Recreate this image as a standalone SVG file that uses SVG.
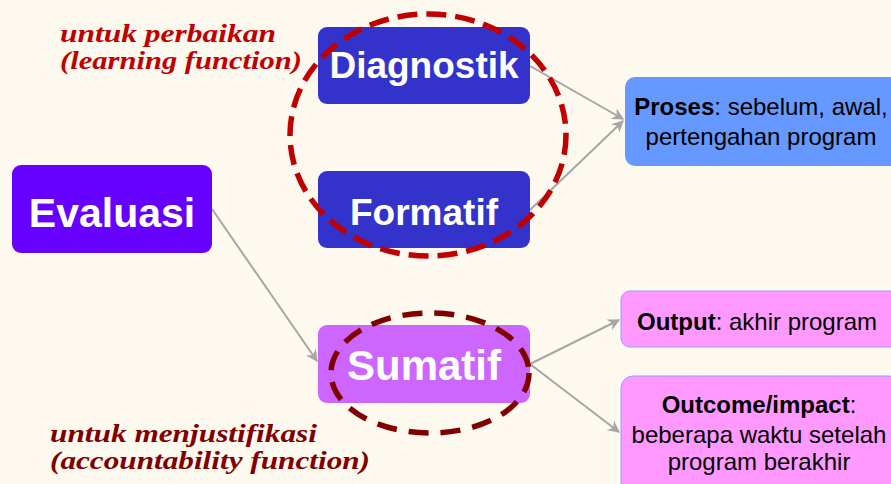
<svg xmlns="http://www.w3.org/2000/svg" width="891" height="484" viewBox="0 0 891 484">
<style>
.bg{fill:#FDF9EF}
.box text{font-family:"Liberation Sans",Arial,sans-serif}
.big{font-weight:bold;fill:#FFFFFF;text-anchor:middle}
.small{font-size:24px;fill:#000000;text-anchor:middle}
.b{font-weight:bold}
.conn line{stroke:#A6A6A6;stroke-width:2;fill:none}
.script{font-family:"Liberation Serif","DejaVu Serif",serif;font-style:italic;font-weight:bold;font-size:26px}
.ell{fill:none;stroke-width:5.5}
</style>
<defs>
<marker id="arr" viewBox="0 0 10 10" refX="9" refY="5" markerWidth="6" markerHeight="6" markerUnits="strokeWidth" orient="auto">
<path d="M0,0 L10,5 L0,10 L3,5 Z" fill="#A6A6A6"/>
</marker>
</defs>
<rect class="bg" x="0" y="0" width="891" height="484"/>

<g id="connectors" class="conn">
<line x1="212" y1="209" x2="317" y2="361" marker-end="url(#arr)"/>
<line x1="530" y1="66" x2="623" y2="119" marker-end="url(#arr)"/>
<line x1="530" y1="210" x2="623" y2="121" marker-end="url(#arr)"/>
<line x1="530" y1="364" x2="619" y2="320" marker-end="url(#arr)"/>
<line x1="530" y1="364" x2="619" y2="432" marker-end="url(#arr)"/>
</g>

<g id="evaluasi" class="box">
<rect x="12" y="165" width="200" height="88" rx="9" fill="#6600FF"/>
<text class="big" x="112" y="227" font-size="41">Evaluasi</text>
</g>
<g id="diagnostik" class="box">
<rect x="318" y="27" width="212" height="77" rx="9" fill="#3333CC"/>
<text class="big" x="424" y="78" font-size="37">Diagnostik</text>
</g>
<g id="formatif" class="box">
<rect x="318" y="171" width="212" height="77" rx="9" fill="#3333CC"/>
<text class="big" x="424" y="225" font-size="37">Formatif</text>
</g>
<g id="sumatif" class="box">
<rect x="318" y="325" width="212" height="78" rx="9" fill="#CC66FF"/>
<text class="big" x="424" y="380" font-size="42">Sumatif</text>
</g>
<g id="proses" class="box">
<rect x="625" y="77" width="280" height="89" rx="10" fill="#6699FF"/>
<text class="small" x="761" y="115"><tspan class="b">Proses</tspan>: sebelum, awal,</text>
<text class="small" x="761" y="145">pertengahan program</text>
</g>
<g id="output" class="box">
<rect x="621" y="291" width="280" height="56" rx="9" fill="#FF99FF" stroke="#9999FF" stroke-width="1"/>
<text class="small" x="757" y="330"><tspan class="b">Output</tspan>: akhir program</text>
</g>
<g id="outcome" class="box">
<rect x="621" y="376" width="280" height="120" rx="12" fill="#FF99FF" stroke="#9999FF" stroke-width="1"/>
<text class="small" x="759" y="413"><tspan class="b">Outcome/impact</tspan>:</text>
<text class="small" x="759" y="443">beberapa waktu setelah</text>
<text class="small" x="759" y="470">program berakhir</text>
</g>

<g id="learning-group">
<ellipse class="ell" cx="428" cy="135" rx="138" ry="121" stroke="#C00000" stroke-dasharray="20 9"/>
</g>
<g id="accountability-group">
<ellipse class="ell" cx="430" cy="373" rx="99" ry="60" stroke="#800000" stroke-dasharray="20 12"/>
</g>

<g id="label-learning" class="script" fill="#C00000">
<text x="60" y="42" textLength="216" lengthAdjust="spacingAndGlyphs">untuk perbaikan</text>
<text x="60" y="69" textLength="242" lengthAdjust="spacingAndGlyphs">(learning function)</text>
</g>
<g id="label-accountability" class="script" fill="#800000">
<text x="50" y="442" textLength="267" lengthAdjust="spacingAndGlyphs">untuk menjustifikasi</text>
<text x="50" y="469" textLength="320" lengthAdjust="spacingAndGlyphs">(accountability function)</text>
</g>
</svg>
